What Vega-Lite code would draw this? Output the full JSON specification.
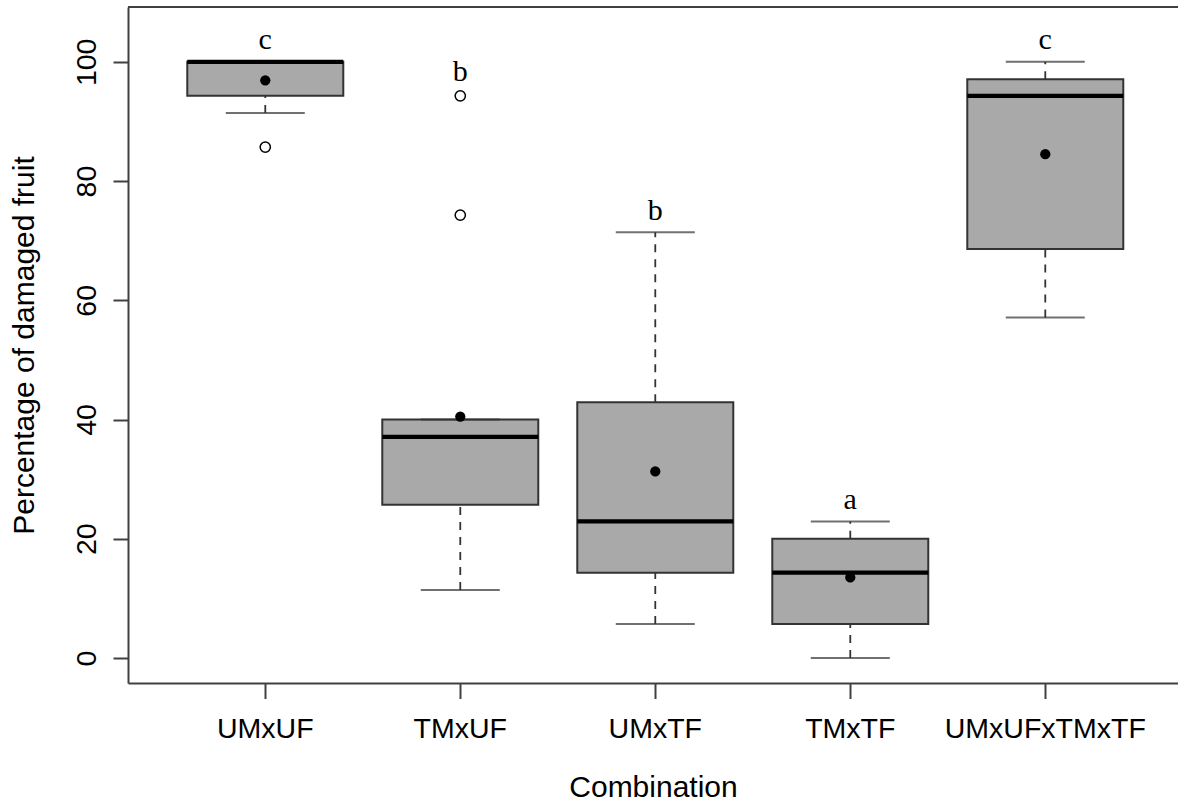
{
  "$schema": "https://vega.github.io/schema/vega-lite/v6.json",
  "autosize": "none",
  "width": 1050,
  "height": 676,
  "padding": {"left": 128, "top": 7, "right": 0, "bottom": 120},
  "background": "white",
  "datasets": {
    "boxes": [
      {"group": "UMxUF", "lower": 91.4, "q1": 94.3, "median": 100, "q3": 100, "upper": 100, "mean": 96.9, "letter": "c", "letterY": 102.2},
      {"group": "TMxUF", "lower": 11.4, "q1": 25.7, "median": 37.1, "q3": 40, "upper": 40, "mean": 40.5, "letter": "b", "letterY": 96.8},
      {"group": "UMxTF", "lower": 5.7, "q1": 14.3, "median": 22.9, "q3": 42.9, "upper": 71.4, "mean": 31.3, "letter": "b", "letterY": 73.5},
      {"group": "TMxTF", "lower": 0, "q1": 5.7, "median": 14.3, "q3": 20, "upper": 22.9, "mean": 13.5, "letter": "a", "letterY": 25.0},
      {"group": "UMxUFxTMxTF", "lower": 57.1, "q1": 68.6, "median": 94.3, "q3": 97.1, "upper": 100, "mean": 84.5, "letter": "c", "letterY": 102.2}
    ],
    "outliers": [
      {"group": "UMxUF", "value": 85.7},
      {"group": "TMxUF", "value": 74.3},
      {"group": "TMxUF", "value": 94.3}
    ]
  },
  "data": {"name": "boxes"},
  "config": {
    "view": {"stroke": null},
    "axis": {
      "labelFont": "Liberation Sans",
      "labelFontSize": 28.5,
      "labelColor": "#000000",
      "labelLimit": 0,
      "titleFont": "Liberation Sans",
      "titleFontSize": 30,
      "titleFontWeight": "normal",
      "titleColor": "#000000",
      "titleLimit": 0,
      "domainColor": "#404040",
      "domainWidth": 2,
      "tickColor": "#404040",
      "tickWidth": 2,
      "grid": false,
      "labelFlush": false,
      "labelOverlap": false
    },
    "axisX": {
      "labelAngle": 0, "labelAlign": "center", "labelBaseline": "alphabetic", "labelPadding": 38.5, "tickSize": 15.5,
      "titleX": 525, "titleY": 113.5, "titleAlign": "center", "titleBaseline": "alphabetic"
    },
    "axisY": {
      "labelAngle": 270, "labelAlign": "center", "labelBaseline": "alphabetic", "labelPadding": 18, "tickSize": 15,
      "titleAngle": 270, "titleAlign": "center", "titleBaseline": "alphabetic", "titleX": -95, "titleY": 338
    }
  },
  "layer": [
    {
      "mark": {"type": "bar", "fill": "#A9A9A9", "stroke": "#333333", "strokeWidth": 2, "opacity": 1},
      "encoding": {
        "x": {"field": "group", "type": "nominal", "sort": null, "title": "Combination",
          "scale": {"type": "band", "domain": ["UMxUF", "TMxUF", "UMxTF", "TMxTF", "UMxUFxTMxTF"], "paddingInner": 0.2, "paddingOuter": 0.2923, "align": 0.52}},
        "y": {"field": "q1", "type": "quantitative", "title": "Percentage of damaged fruit",
          "scale": {"domain": [-4.2, 109.2], "nice": false, "zero": false},
          "axis": {"values": [0, 20, 40, 60, 80, 100]}},
        "y2": {"field": "q3"}
      }
    },
    {
      "mark": {"type": "rule", "color": "#333333", "strokeWidth": 1.8, "strokeDash": [8, 7]},
      "encoding": {
        "x": {"field": "group", "type": "nominal", "sort": null, "title": "Combination"},
        "y": {"field": "lower", "type": "quantitative", "title": "Percentage of damaged fruit"},
        "y2": {"field": "q1"}
      }
    },
    {
      "mark": {"type": "rule", "color": "#333333", "strokeWidth": 1.8, "strokeDash": [8, 7]},
      "encoding": {
        "x": {"field": "group", "type": "nominal", "sort": null, "title": "Combination"},
        "y": {"field": "q3", "type": "quantitative", "title": "Percentage of damaged fruit"},
        "y2": {"field": "upper"}
      }
    },
    {
      "mark": {"type": "tick", "color": "#333333", "size": 79, "thickness": 2},
      "encoding": {
        "x": {"field": "group", "type": "nominal", "sort": null, "title": "Combination"},
        "y": {"field": "lower", "type": "quantitative", "title": "Percentage of damaged fruit"}
      }
    },
    {
      "mark": {"type": "tick", "color": "#333333", "size": 79, "thickness": 2},
      "encoding": {
        "x": {"field": "group", "type": "nominal", "sort": null, "title": "Combination"},
        "y": {"field": "upper", "type": "quantitative", "title": "Percentage of damaged fruit"}
      }
    },
    {
      "mark": {"type": "tick", "color": "#000000", "size": 156, "thickness": 4.3, "opacity": 1},
      "encoding": {
        "x": {"field": "group", "type": "nominal", "sort": null, "title": "Combination"},
        "y": {"field": "median", "type": "quantitative", "title": "Percentage of damaged fruit"}
      }
    },
    {
      "mark": {"type": "point", "shape": "circle", "filled": true, "size": 105, "color": "#000000", "opacity": 1},
      "encoding": {
        "x": {"field": "group", "type": "nominal", "sort": null, "title": "Combination"},
        "y": {"field": "mean", "type": "quantitative", "title": "Percentage of damaged fruit"}
      }
    },
    {
      "data": {"name": "outliers"},
      "mark": {"type": "point", "shape": "circle", "filled": false, "size": 105, "stroke": "#000000", "strokeWidth": 1.5, "opacity": 1},
      "encoding": {
        "x": {"field": "group", "type": "nominal", "sort": null, "title": "Combination"},
        "y": {"field": "value", "type": "quantitative", "title": "Percentage of damaged fruit"}
      }
    },
    {
      "mark": {"type": "text", "font": "Liberation Serif", "fontSize": 30, "align": "center", "baseline": "alphabetic", "color": "#000000"},
      "encoding": {
        "x": {"field": "group", "type": "nominal", "sort": null, "title": "Combination"},
        "y": {"field": "letterY", "type": "quantitative", "title": "Percentage of damaged fruit"},
        "text": {"field": "letter"}
      }
    },
    {
      "transform": [{"filter": "datum.group == 'UMxUF'"}],
      "mark": {"type": "rule", "color": "#404040", "strokeWidth": 2},
      "encoding": {
        "y": {"datum": 109.2, "type": "quantitative", "title": "Percentage of damaged fruit"}
      }
    }
  ]
}
